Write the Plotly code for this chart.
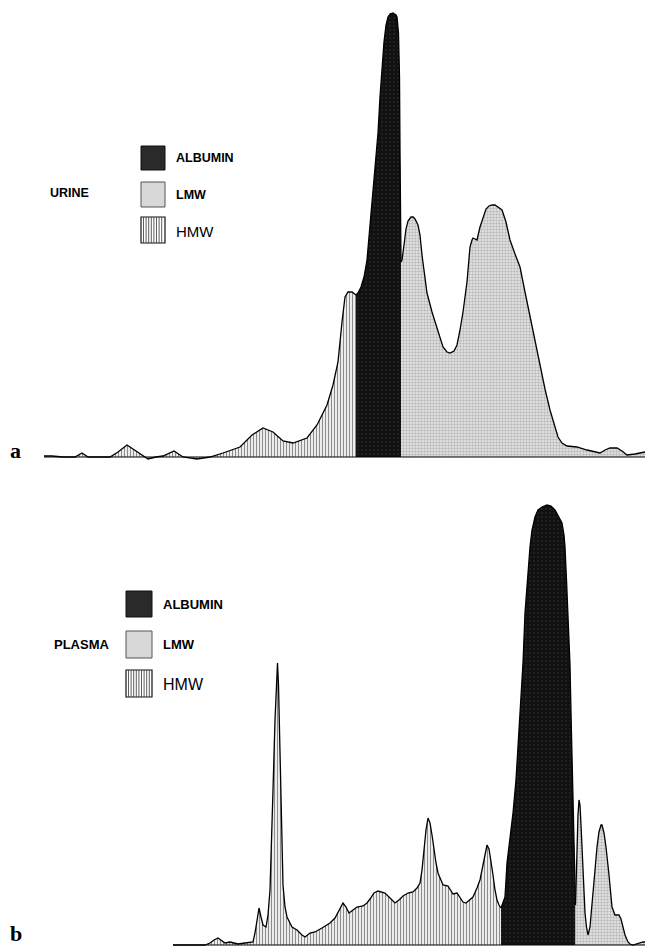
import plotly.graph_objects as go

# ---------------- DATA ----------------
# Panel a (URINE): migration position vs. densitometric absorbance (arbitrary units)
urine_hmw_x = [44, 52, 63, 75, 82, 88, 110, 118, 127, 135, 140, 148, 156, 163, 174, 183, 197, 210, 223, 240,
               252, 263, 273, 283, 293, 307, 317, 327, 333, 338, 342, 345, 348, 352, 356]
urine_hmw_y = [1, 1, 0, 0, 4, 0, 0, 5, 12, 7, 3, -2, 0, 1, 6, 0, -2, 0, 4, 10,
               22, 29, 25, 16, 14, 19, 32, 52, 72, 95, 135, 160, 165, 165, 162]
urine_alb_x = [356, 358, 361, 364, 367, 370, 372, 375, 378, 380, 382, 384, 386, 388, 390, 393, 396, 397,
               398.5, 399.5, 400, 400.5, 401]
urine_alb_y = [162, 164, 170, 180, 197, 230, 257, 290, 324, 360, 390, 415, 432, 440, 443, 444, 442, 440,
               424, 380, 307, 250, 195]
urine_lmw_x = [401, 402, 404, 406, 408, 411, 413, 415, 418, 420, 422, 425, 427, 432, 437, 443, 447, 450, 454,
               457, 460, 463, 467, 470, 472, 473, 475, 477, 480, 483, 486, 489, 492, 495, 499, 502, 506, 510,
               515, 520, 525, 530, 535, 540, 545, 550, 554, 558, 562, 567, 577, 587, 600, 605, 610, 617, 622,
               627, 635, 643, 645]
urine_lmw_y = [195, 197, 212, 228, 236, 240, 240, 238, 232, 222, 202, 180, 164, 145, 130, 110, 105, 104, 106,
               112, 127, 145, 175, 210, 217, 219, 218, 217, 230, 240, 248, 251, 252, 252, 249, 247, 235, 217,
               203, 190, 165, 140, 115, 90, 68, 47, 33, 20, 14, 11, 10, 7, 4, 7, 9, 9, 6,
               2, 3, 4, 5]

# Panel b (PLASMA)
plasma_hmw_x = [173, 190, 200, 205, 210, 214, 218, 222, 225, 230, 235, 238, 245, 250, 253, 255, 257, 259, 261,
                263, 266, 268, 270, 272, 273, 275, 276.5, 277.5, 278.5, 280, 281.5, 283, 285, 287, 292, 297,
                302, 305, 310, 315, 322, 330, 335, 340, 343, 346, 349, 353, 357, 363, 367, 370, 374, 378, 382,
                385, 390, 395, 399, 403, 408, 413, 417, 420, 422, 424, 426, 428, 430, 432, 434, 436, 438, 443,
                448, 451, 453, 457, 460, 463, 466, 470, 473, 477, 480, 483, 485, 487, 489, 491, 493, 495, 497,
                499, 501]
plasma_hmw_y = [0, 0, 0, 0, 2, 5, 7, 4, 2, 3, 2, 1, 2, 3, 3, 12, 25, 37, 28,
                20, 18, 30, 55, 110, 155, 225, 265, 282, 260, 200, 130, 60, 38, 28, 18, 15,
                10, 8, 12, 13, 17, 22, 27, 37, 42, 38, 32, 35, 38, 39, 42, 46, 52, 54, 53,
                52, 47, 42, 45, 49, 52, 53, 57, 62, 75, 95, 115, 127, 122, 110, 95, 82, 72, 60,
                59, 54, 51, 52, 48, 43, 42, 45, 48, 57, 65, 80, 92, 100, 96, 85, 70, 55, 45,
                40, 37]
plasma_alb_x = [501, 503, 505, 507, 510, 513, 516, 520, 523, 525, 527, 530, 532, 535, 538, 542, 547, 551, 555,
                559, 562, 564, 565, 566.5, 568, 570, 571, 572, 573, 574, 574.6, 575.5]
plasma_alb_y = [37, 43, 48, 82, 105, 132, 165, 232, 282, 332, 360, 398, 415, 428, 435, 438, 440, 439, 435,
                428, 422, 410, 398, 365, 332, 280, 232, 185, 132, 90, 60, 40]
plasma_lmw_x = [575.5, 577, 578, 579, 580, 581, 582, 583.5, 585, 586.5, 588, 590, 593, 595, 597, 599, 601, 602,
                604, 606, 609, 612, 615, 617, 619, 621, 623, 625, 628, 630, 633, 636, 640, 643, 645]
plasma_lmw_y = [40, 98, 130, 145, 140, 120, 98, 60, 32, 18, 10, 18, 48, 75, 98, 113, 120, 120,
                112, 98, 70, 38, 30, 30, 30, 26, 18, 10, 3, 1, 0, 1, 2, 3, 3]

fraction_labels = ["ALBUMIN", "LMW", "HMW"]
sample_labels = ["URINE", "PLASMA"]
panel_letters = ["a", "b"]

# ---------------- STYLES ----------------
W, H = 645, 949
LINE = dict(color="black", width=1.3)
HMW_PAT = dict(shape="|", size=3, solidity=0.45, fgcolor="#1a1a1a", bgcolor="white")
LMW_PAT = dict(shape=".", size=3, solidity=0.5, fgcolor="#8a8a8a", bgcolor="#e8e8e8")
ALB_PAT = dict(shape=".", size=4, solidity=0.12, fgcolor="#5a5a5a", bgcolor="#111111")
FONT = "Liberation Sans, Arial, sans-serif"

fig = go.Figure()


def add_panel(xa, ya, hx, hy, ax_, ay_, lx, ly):
    for xs, ys, pat in ((hx, hy, HMW_PAT), (ax_, ay_, ALB_PAT), (lx, ly, LMW_PAT)):
        fig.add_trace(go.Scatter(x=xs, y=ys, mode="lines", line=LINE, fill="tozeroy",
                                 fillpattern=pat, fillcolor=pat["bgcolor"],
                                 xaxis=xa, yaxis=ya, hoverinfo="skip", showlegend=False))
    # baseline of the trace
    fig.add_trace(go.Scatter(x=[hx[0], lx[-1]], y=[0, 0], mode="lines",
                             line=dict(color="black", width=1), xaxis=xa, yaxis=ya,
                             hoverinfo="skip", showlegend=False))


add_panel("x", "y", urine_hmw_x, urine_hmw_y, urine_alb_x, urine_alb_y, urine_lmw_x, urine_lmw_y)
add_panel("x2", "y2", plasma_hmw_x, plasma_hmw_y, plasma_alb_x, plasma_alb_y, plasma_lmw_x, plasma_lmw_y)


def px(x):
    return x / W


def py(y):
    return 1 - y / H


shapes = []
annotations = []


def legend(x0, x1, rows, name, name_x, name_y, big_font, small_font, name_font):
    # rows: list of (y0, y1) for ALBUMIN, LMW, HMW
    (a0, a1), (l0, l1), (h0, h1) = rows
    shapes.append(dict(type="rect", xref="paper", yref="paper", x0=px(x0), x1=px(x1), y0=py(a1), y1=py(a0),
                       fillcolor="#2a2a2a", line=dict(color="#111", width=1)))
    shapes.append(dict(type="rect", xref="paper", yref="paper", x0=px(x0), x1=px(x1), y0=py(l1), y1=py(l0),
                       fillcolor="#d8d8d8", line=dict(color="#555", width=1)))
    shapes.append(dict(type="rect", xref="paper", yref="paper", x0=px(x0), x1=px(x1), y0=py(h1), y1=py(h0),
                       fillcolor="white", line=dict(color="#111", width=1.2)))
    xx = x0 + 2.5
    while xx < x1 - 1:
        shapes.append(dict(type="line", xref="paper", yref="paper", x0=px(xx), x1=px(xx), y0=py(h1), y1=py(h0),
                           line=dict(color="#333", width=0.8)))
        xx += 2.6
    tx = x1 + 9
    for (r0, r1), lab in zip(rows, fraction_labels):
        is_hmw = lab == "HMW"
        annotations.append(dict(xref="paper", yref="paper", x=px(tx), y=py((r0 + r1) / 2 + (1 if is_hmw else 0)),
                                text=lab, showarrow=False, xanchor="left", yanchor="middle",
                                font=dict(family=FONT, size=big_font if is_hmw else small_font,
                                          color="black", weight=400 if is_hmw else 700)))
    annotations.append(dict(xref="paper", yref="paper", x=px(name_x), y=py(name_y), text=name,
                            showarrow=False, xanchor="left", yanchor="middle",
                            font=dict(family=FONT, size=name_font, color="black", weight=700)))


legend(141, 165, [(146, 170), (182, 207), (217, 243)], sample_labels[0], 48, 193, 15, 12.5, 12.5)
legend(126, 152, [(591, 617), (631, 658), (670, 697)], sample_labels[1], 52, 644, 16, 13, 13)

for letter, yy in zip(panel_letters, (451, 933)):
    annotations.append(dict(xref="paper", yref="paper", x=px(8), y=py(yy), text=letter, showarrow=False,
                            xanchor="left", yanchor="middle",
                            font=dict(family="Liberation Serif, Times New Roman, serif", size=22,
                                      color="black", weight=700)))

ax_common = dict(visible=False, showgrid=False, zeroline=False, fixedrange=True)
fig.update_layout(
    width=W, height=H, margin=dict(l=0, r=0, t=0, b=0),
    paper_bgcolor="white", plot_bgcolor="white", showlegend=False,
    xaxis=dict(domain=[0, 1], range=[0, 645], anchor="y", **ax_common),
    yaxis=dict(domain=[1 - 465 / H, 1], range=[-8, 457], anchor="x", **ax_common),
    xaxis2=dict(domain=[0, 1], range=[0, 645], anchor="y2", **ax_common),
    yaxis2=dict(domain=[0, 474 / H], range=[-4, 470], anchor="x2", **ax_common),
    shapes=shapes, annotations=annotations,
)

fig.write_html("out.html", config={"displayModeBar": False},
               post_script="document.body.style.margin='0';document.body.style.overflow='hidden';")
